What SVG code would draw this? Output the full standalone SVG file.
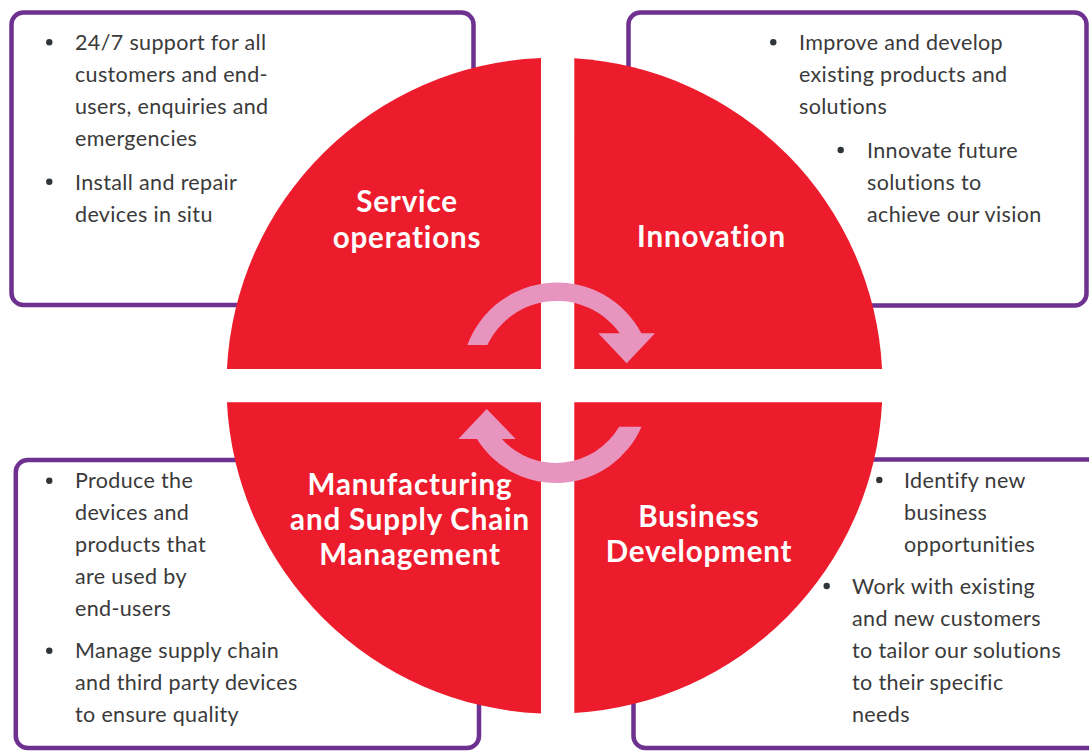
<svg xmlns="http://www.w3.org/2000/svg" width="1089" height="751" viewBox="0 0 1089 751">
<style>
.box{fill:#ffffff;stroke:#6E3190;stroke-width:4.5}
.quad{fill:#ED1C2C}
.title{font-family:Lato,"Open Sans",sans-serif;font-weight:bold;font-size:29.5px;letter-spacing:0.85px;fill:#ffffff;text-anchor:middle}
.body{font-family:Lato,"Open Sans",sans-serif;font-size:21.5px;letter-spacing:0.35px;fill:#3A3A3A}
.dot{fill:#2F3538}
.arrow{fill:#E795BE}
</style>
<rect width="1089" height="751" fill="#ffffff"/>
<g id="service-operations">
<rect class="box" x="11.5" y="12.5" width="462" height="292.5" rx="12"/>
<path class="quad" d="M541,369 L226.93,369 A328,328 0 0 1 541,57.98 Z"/>
<text class="title"><tspan x="407" y="212">Service</tspan><tspan x="407" y="248">operations</tspan></text>
<circle class="dot" cx="49.3" cy="42.3" r="3.2"/>
<circle class="dot" cx="49.3" cy="181.7" r="3.2"/>
<text class="body"><tspan x="75" y="50">24/7 support for all</tspan><tspan x="75" y="82">customers and end-</tspan><tspan x="75" y="114">users, enquiries and</tspan><tspan x="75" y="146">emergencies</tspan><tspan x="75" y="189.5">Install and repair</tspan><tspan x="75" y="221.5">devices in situ</tspan></text>
</g>
<g id="innovation">
<rect class="box" x="628.5" y="12.5" width="458" height="293" rx="12"/>
<path class="quad" d="M574.3,369 L574.3,58.3 A328,328 0 0 1 882.07,369 Z"/>
<text class="title" x="711.5" y="247">Innovation</text>
<circle class="dot" cx="773.3" cy="42.3" r="3.2"/>
<circle class="dot" cx="840.7" cy="150" r="3.2"/>
<text class="body"><tspan x="799" y="50">Improve and develop</tspan><tspan x="799" y="82">existing products and</tspan><tspan x="799" y="114">solutions</tspan><tspan x="867" y="157.5">Innovate future</tspan><tspan x="867" y="189.5">solutions to</tspan><tspan x="867" y="221.5">achieve our vision</tspan></text>
</g>
<g id="manufacturing">
<rect class="box" x="15.8" y="460" width="463.2" height="288" rx="12"/>
<path class="quad" d="M541,402.3 L541,713.42 A328,328 0 0 1 226.92,402.3 Z"/>
<text class="title"><tspan x="410" y="495">Manufacturing</tspan><tspan x="410" y="530">and Supply Chain</tspan><tspan x="410" y="565">Management</tspan></text>
<circle class="dot" cx="49.3" cy="480.7" r="3.2"/>
<circle class="dot" cx="49.3" cy="650.7" r="3.2"/>
<text class="body"><tspan x="75" y="488">Produce the</tspan><tspan x="75" y="520">devices and</tspan><tspan x="75" y="552">products that</tspan><tspan x="75" y="584">are used by</tspan><tspan x="75" y="616">end-users</tspan><tspan x="75" y="658">Manage supply chain</tspan><tspan x="75" y="690">and third party devices</tspan><tspan x="75" y="722">to ensure quality</tspan></text>
</g>
<g id="business-development">
<rect class="box" x="633.5" y="459.5" width="470" height="288.5" rx="12"/>
<path class="quad" d="M574.3,402.3 L882.08,402.3 A328,328 0 0 1 574.3,713.1 Z"/>
<text class="title"><tspan x="699" y="527">Business</tspan><tspan x="699" y="562">Development</tspan></text>
<circle class="dot" cx="879.3" cy="480" r="3.2"/>
<circle class="dot" cx="826.7" cy="586" r="3.2"/>
<text class="body"><tspan x="904" y="488">Identify new</tspan><tspan x="904" y="520">business</tspan><tspan x="904" y="552">opportunities</tspan><tspan x="852" y="594">Work with existing</tspan><tspan x="852" y="626">and new customers</tspan><tspan x="852" y="658">to tailor our solutions</tspan><tspan x="852" y="690">to their specific</tspan><tspan x="852" y="722">needs</tspan></text>
</g>
<g id="connectors">
<path class="arrow" d="M467.4,345 A95.5,95.5 0 0 1 641.4,333.3 L655,333.3 L626.7,363.3 L598.3,333.3 L619.7,333.3 A77,77 0 0 0 487.4,345 Z"/>
<path class="arrow" d="M641.5,426.7 A93,93 0 0 1 477,439 L458.3,439 L486.7,409 L515.7,439 L501.9,439 A73,73 0 0 0 619.1,426.7 Z"/>
</g>
</svg>
